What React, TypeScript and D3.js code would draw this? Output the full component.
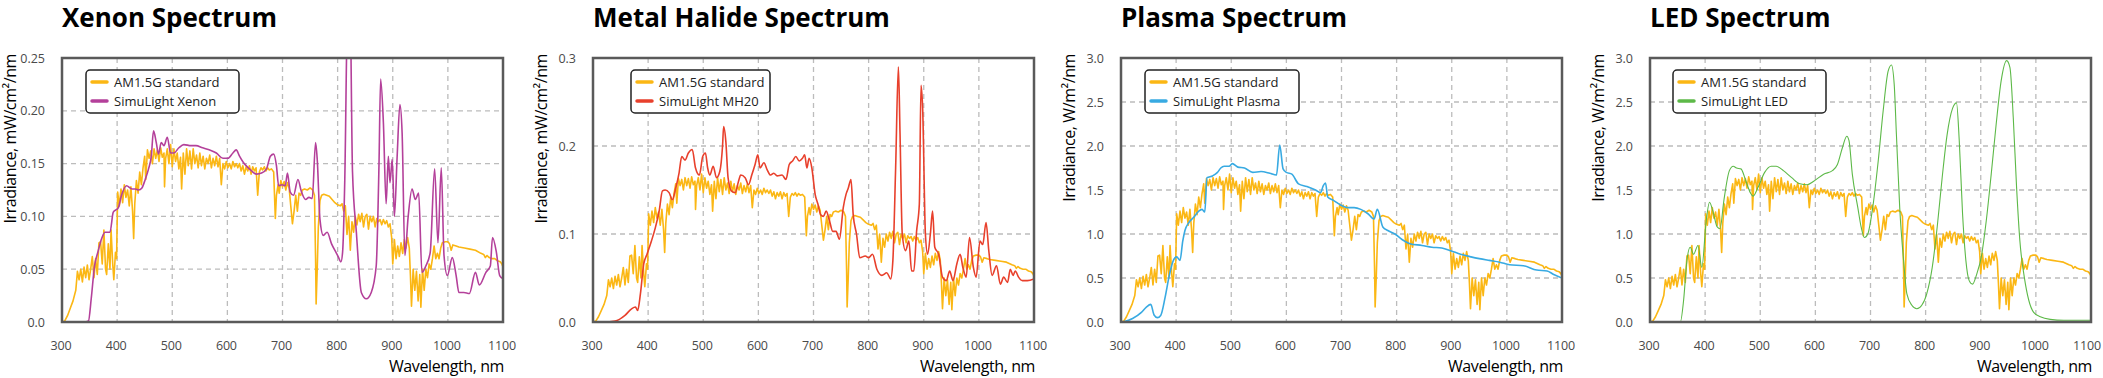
import React from "react";
import * as d3 from "d3";

// ---- DATA ----
// AM1.5G standard spectrum, W/m²/nm  [wavelength nm, irradiance]
const AM15G: [number, number][] = [
  [300,0],[305,0.01],[310,0.06],[315,0.13],[320,0.2],[325,0.3],[328,0.48],[331,0.4],[334,0.5],[337,0.38],[340,0.52],[343,0.42],[346,0.54],[349,0.4],[352,0.5],[355,0.62],[358,0.42],[361,0.6],[364,0.45],[367,0.75],[370,0.76],[373,0.55],[376,0.87],[379,0.5],[381,0.45],[384,0.74],[387,0.5],[389,0.87],[392,0.55],[394,0.4],[397,0.66],[399,0.6],
  [401,1.23],[404,1.1],[407,1.26],[410,1.13],[413,1.3],[416,1.18],[419,1.25],[422,1.1],[425,1.28],[428,1.05],[430,0.79],[432,1.12],[435,1.34],[438,1.22],[441,1.42],[444,1.3],[447,1.46],[450,1.57],[452,1.35],[455,1.63],[458,1.55],[461,1.62],[464,1.5],[467,1.64],[470,1.55],[473,1.63],[476,1.52],[479,1.65],[482,1.56],[485,1.6],[486,1.28],[488,1.55],[491,1.64],[494,1.5],[497,1.68],[500,1.47],
  [503,1.64],[506,1.52],[509,1.6],[512,1.45],[515,1.56],[517,1.26],[520,1.6],[523,1.4],[526,1.64],[529,1.48],[532,1.62],[535,1.45],[538,1.64],[541,1.5],[544,1.58],[547,1.46],[550,1.6],[553,1.48],[556,1.57],[559,1.45],[562,1.55],[565,1.5],[568,1.58],[571,1.46],[574,1.55],[577,1.48],[580,1.57],[583,1.47],[586,1.55],[589,1.3],[592,1.5],[595,1.45],[598,1.52],
  [601,1.46],[604,1.5],[607,1.45],[610,1.52],[613,1.47],[616,1.5],[619,1.46],[622,1.5],[625,1.43],[628,1.48],[631,1.4],[634,1.47],[637,1.43],[640,1.48],[643,1.4],[646,1.47],[649,1.43],[652,1.46],[655,1.2],[658,1.42],[661,1.46],[664,1.44],[667,1.47],[670,1.43],[673,1.46],[676,1.44],[680,1.45],[684,1.42],[687,0.98],[689,1.2],[692,1.3],[694,1.22],[697,1.34],[700,1.28],
  [703,1.33],[706,1.25],[709,1.32],[712,1.27],[715,1.1],[718,0.93],[721,1.05],[724,1.2],[727,1.05],[730,1.22],[733,1.2],[736,1.25],[740,1.26],[745,1.25],[750,1.27],[755,1.25],[758,1.2],[760,0.6],[761,0.17],[763,0.5],[765,0.9],[768,1.15],[771,1.2],[775,1.21],[780,1.2],[785,1.19],[790,1.16],[795,1.13],[800,1.11],
  [805,1.1],[808,1.12],[811,1.05],[814,1.1],[817,0.83],[820,1.0],[823,0.68],[826,0.95],[829,0.85],[832,1.0],[835,0.92],[838,1.02],[841,0.95],[844,1.03],[847,0.9],[850,1.0],[853,1.02],[856,0.88],[859,1.0],[862,0.95],[865,1.0],[868,0.9],[871,0.98],[874,0.95],[877,0.97],[880,0.92],[883,0.97],[886,0.93],[889,0.96],[892,0.9],[895,0.93],[898,0.8],[900,0.55],
  [903,0.78],[906,0.6],[909,0.72],[912,0.62],[915,0.75],[918,0.65],[921,0.78],[924,0.7],[927,0.8],[930,0.7],[932,0.45],[934,0.15],[937,0.5],[940,0.3],[943,0.48],[946,0.2],[949,0.45],[951,0.14],[954,0.5],[957,0.3],[960,0.5],[963,0.42],[966,0.55],[969,0.5],[972,0.6],[975,0.72],[978,0.6],[981,0.65],[984,0.6],[987,0.7],[990,0.75],[995,0.76],
  [1000,0.76],[1003,0.74],[1006,0.68],[1009,0.73],[1015,0.72],[1020,0.71],[1030,0.7],[1040,0.69],[1050,0.68],[1060,0.65],[1065,0.64],[1068,0.61],[1071,0.63],[1075,0.61],[1080,0.6],[1085,0.6],[1090,0.58],[1095,0.57],[1098,0.55],[1100,0.52],
];

// SimuLight Xenon, mW/cm²/nm
const XENON: [number, number][] = [
  [300,0],[320,0],[340,0],[348,0.001],[353,0.022],[359,0.053],[365,0.066],[372,0.079],[378,0.085],[387,0.085],[393,0.104],[402,0.108],[408,0.12],[417,0.129],[427,0.126],[433,0.126],[439,0.125],[445,0.127],[451,0.135],[457,0.145],[462,0.157],[466,0.181],[471,0.17],[475,0.159],[480,0.17],[485,0.167],[491,0.175],[497,0.16],[503,0.16],[512,0.165],[521,0.168],[534,0.167],[543,0.167],[555,0.165],[567,0.163],[580,0.16],[592,0.155],[601,0.155],[610,0.16],[616,0.163],[622,0.157],[629,0.151],[638,0.146],[644,0.143],[653,0.14],[662,0.141],[671,0.145],[678,0.157],[684,0.159],[689,0.148],[693,0.129],[699,0.13],[705,0.129],[709,0.141],[714,0.123],[720,0.12],[728,0.135],[734,0.124],[742,0.116],[748,0.118],[754,0.117],[760,0.17],[763,0.154],[768,0.097],[774,0.082],[781,0.085],[789,0.074],[797,0.066],[801,0.062],[806,0.057],[809,0.066],[813,0.135],[818,0.3],[822,0.32],[827,0.142],[834,0.085],[843,0.028],[852,0.022],[861,0.028],[870,0.053],[875,0.148],[878,0.23],[883,0.189],[888,0.112],[892,0.157],[895,0.132],[899,0.154],[903,0.1],[908,0.157],[913,0.206],[917,0.179],[922,0.063],[928,0.1],[935,0.126],[941,0.116],[947,0.122],[953,0.047],[960,0.053],[968,0.066],[976,0.145],[982,0.075],[988,0.146],[993,0.063],[999,0.044],[1008,0.061],[1015,0.044],[1020,0.028],[1029,0.028],[1039,0.027],[1050,0.047],[1057,0.035],[1069,0.047],[1077,0.053],[1081,0.08],[1088,0.066],[1094,0.044],[1100,0.041],
];

// SimuLight MH20, mW/cm²/nm
const MH20: [number, number][] = [
  [300,0],[320,0],[340,0.001],[358,0.0075],[370,0.015],[377,0.017],[381,0.013],[386,0.032],[392,0.066],[398,0.077],[406,0.092],[413,0.107],[420,0.126],[426,0.149],[431,0.15],[438,0.147],[444,0.139],[450,0.152],[456,0.169],[461,0.188],[467,0.184],[473,0.192],[480,0.196],[486,0.175],[493,0.167],[499,0.188],[504,0.192],[508,0.175],[512,0.167],[518,0.177],[524,0.164],[530,0.171],[535,0.2],[537,0.222],[541,0.205],[545,0.164],[551,0.149],[558,0.147],[564,0.16],[568,0.167],[576,0.164],[582,0.156],[588,0.167],[594,0.179],[599,0.19],[603,0.175],[610,0.181],[616,0.173],[622,0.167],[628,0.169],[634,0.166],[643,0.167],[650,0.162],[656,0.179],[662,0.183],[668,0.188],[674,0.183],[680,0.186],[684,0.19],[688,0.175],[692,0.186],[697,0.175],[703,0.145],[708,0.134],[713,0.122],[718,0.12],[723,0.126],[729,0.115],[735,0.103],[741,0.103],[747,0.094],[754,0.13],[759,0.145],[763,0.152],[768,0.162],[772,0.122],[778,0.1],[784,0.073],[794,0.075],[800,0.073],[807,0.077],[815,0.06],[824,0.053],[833,0.056],[840,0.049],[844,0.07],[849,0.175],[854,0.29],[857,0.213],[861,0.1],[867,0.081],[873,0.092],[878,0.058],[882,0.058],[887,0.103],[892,0.134],[895,0.269],[898,0.243],[903,0.1],[907,0.077],[912,0.1],[916,0.126],[920,0.085],[927,0.077],[934,0.051],[941,0.047],[947,0.058],[953,0.047],[960,0.066],[966,0.077],[971,0.062],[977,0.051],[983,0.096],[990,0.062],[995,0.051],[1002,0.092],[1007,0.088],[1013,0.113],[1018,0.081],[1024,0.053],[1032,0.064],[1039,0.043],[1045,0.051],[1052,0.045],[1057,0.06],[1062,0.053],[1066,0.058],[1072,0.051],[1079,0.047],[1088,0.047],[1100,0.049],
];

// SimuLight Plasma, W/m²/nm
const PLASMA: [number, number][] = [
  [303,0],[321,0.04],[337,0.11],[346,0.17],[354,0.2],[360,0.08],[366,0.05],[372,0.075],[380,0.28],[387,0.51],[395,0.7],[401,0.74],[407,0.7],[412,0.92],[416,1.04],[423,1.13],[432,1.19],[441,1.26],[447,1.28],[452,1.25],[456,1.64],[466,1.66],[475,1.7],[481,1.75],[487,1.77],[496,1.77],[502,1.8],[512,1.76],[524,1.75],[539,1.7],[554,1.71],[570,1.69],[582,1.67],[588,2.01],[594,1.74],[600,1.7],[610,1.68],[622,1.57],[637,1.54],[653,1.5],[662,1.47],[667,1.55],[671,1.58],[675,1.42],[686,1.38],[698,1.33],[711,1.3],[723,1.3],[735,1.28],[748,1.23],[759,1.17],[765,1.28],[775,1.08],[784,1.04],[797,1.0],[809,0.94],[824,0.89],[846,0.87],[864,0.85],[882,0.84],[898,0.81],[916,0.77],[935,0.74],[950,0.72],[968,0.7],[987,0.68],[1005,0.65],[1030,0.64],[1054,0.59],[1073,0.58],[1085,0.54],[1100,0.5],
];

// SimuLight LED, W/m²/nm
const LED: [number, number][] = [
  [300,0],[340,0],[355,0],[361,0.25],[367,0.7],[373,0.85],[379,0.77],[387,0.87],[394,0.62],[402,1.15],[408,1.36],[414,1.26],[422,1.08],[427,1.06],[434,1.38],[444,1.72],[451,1.77],[457,1.75],[465,1.74],[474,1.6],[482,1.47],[487,1.43],[496,1.53],[508,1.7],[520,1.77],[529,1.77],[542,1.72],[557,1.64],[572,1.57],[585,1.56],[597,1.6],[615,1.68],[631,1.72],[640,1.79],[649,1.98],[657,2.11],[661,2.06],[667,1.68],[677,1.3],[683,1.08],[689,0.96],[695,1.0],[704,1.3],[714,1.83],[723,2.4],[732,2.85],[738,2.92],[743,2.7],[747,2.13],[753,1.3],[760,0.7],[766,0.32],[775,0.19],[784,0.15],[793,0.19],[802,0.32],[812,0.62],[821,1.08],[830,1.64],[839,2.13],[849,2.43],[856,2.49],[861,2.06],[867,1.23],[873,0.7],[879,0.47],[885,0.43],[893,0.55],[901,0.74],[910,1.15],[919,1.68],[928,2.25],[937,2.74],[947,2.97],[953,2.89],[959,2.32],[965,1.53],[971,0.92],[979,0.51],[987,0.25],[996,0.11],[1008,0.06],[1026,0.03],[1051,0.02],[1100,0.02],
];

const TITLES = ["Xenon Spectrum", "Metal Halide Spectrum", "Plasma Spectrum", "LED Spectrum"];
const Y_TITLES = ["Irradiance, mW/cm²/nm", "Irradiance, mW/cm²/nm", "Irradiance, W/m²/nm", "Irradiance, W/m²/nm"];
const LAMP_NAMES = ["SimuLight Xenon", "SimuLight MH20", "SimuLight Plasma", "SimuLight LED"];
const LAMP_DATA = [XENON, MH20, PLASMA, LED];
const Y_MAX = [0.25, 0.3, 3.0, 3.0];
const Y_TICKS = [
  [0, 0.05, 0.1, 0.15, 0.2, 0.25],
  [0, 0.1, 0.2, 0.3],
  [0, 0.5, 1, 1.5, 2, 2.5, 3],
  [0, 0.5, 1, 1.5, 2, 2.5, 3],
];
const Y_TICK_LABELS = [
  ["0.0", "0.05", "0.10", "0.15", "0.20", "0.25"],
  ["0.0", "0.1", "0.2", "0.3"],
  ["0.0", "0.5", "1.0", "1.5", "2.0", "2.5", "3.0"],
  ["0.0", "0.5", "1.0", "1.5", "2.0", "2.5", "3.0"],
];
// unit factor applied to AM1.5G (W/m²/nm -> mW/cm²/nm)
const AM_UNIT = [0.1, 0.1, 1, 1];
const X_TICKS = [300, 400, 500, 600, 700, 800, 900, 1000, 1100];
const AM_NAME = "AM1.5G standard";

// ---- STYLE / LAYOUT ----
const AM_COLOR = "#FBB714";
const LAMP_COLORS = ["#B4409A", "#E8402C", "#38AAE2", "#5DB948"];
const LAMP_WIDTHS = [1.6, 1.6, 1.6, 1.1];
const PANEL_LEFT = [62, 593, 1121, 1650];
const PANEL_W = 441;
const TOP = 58;
const BOTTOM = 322;
const LEGEND_X = [24, 38, 24, 23];
const LEGEND_W = [153, 139, 154, 153];
const FONT = "'Open Sans', 'Noto Sans', sans-serif";
const SVG_W = 2103;

function Panel({ i }: { i: number }) {
  const left = PANEL_LEFT[i];
  const right = left + PANEL_W;
  const x = d3.scaleLinear().domain([300, 1100]).range([left, right]);
  const y = d3.scaleLinear().domain([0, Y_MAX[i]]).range([BOTTOM, TOP]);
  const lineAM = d3
    .line<[number, number]>()
    .x((d) => x(d[0]))
    .y((d) => y(d[1] * AM_UNIT[i]))
    .curve(d3.curveLinear);
  const lineLamp = d3
    .line<[number, number]>()
    .x((d) => x(d[0]))
    .y((d) => y(d[1]))
    .curve(d3.curveMonotoneX);
  const clipId = `clip${i}`;
  const bx = left + LEGEND_X[i];
  const by = TOP + 12;
  return (
    <g>
      <defs>
        <clipPath id={clipId}>
          <rect x={left} y={TOP} width={PANEL_W} height={BOTTOM - TOP} />
        </clipPath>
      </defs>
      <text x={left} y={27} fontFamily={FONT} fontWeight={700} fontSize={26} fill="#000">
        {TITLES[i]}
      </text>
      <rect x={left} y={TOP} width={PANEL_W} height={BOTTOM - TOP} fill="#fff" />
      {X_TICKS.slice(1, -1).map((t) => (
        <line key={"vx" + t} x1={x(t)} x2={x(t)} y1={TOP} y2={BOTTOM} stroke="#bcbcbc" strokeWidth={1.3} strokeDasharray="5,4" />
      ))}
      {Y_TICKS[i].slice(1, -1).map((t) => (
        <line key={"hy" + t} x1={left} x2={right} y1={y(t)} y2={y(t)} stroke="#bcbcbc" strokeWidth={1.3} strokeDasharray="5,4" />
      ))}
      <g clipPath={`url(#${clipId})`}>
        <path d={lineAM(AM15G) || ""} fill="none" stroke={AM_COLOR} strokeWidth={1.6} strokeLinejoin="round" />
        <path d={lineLamp(LAMP_DATA[i]) || ""} fill="none" stroke={LAMP_COLORS[i]} strokeWidth={LAMP_WIDTHS[i]} strokeLinejoin="round" />
      </g>
      <rect x={left} y={TOP} width={PANEL_W} height={BOTTOM - TOP} fill="none" stroke="#5a5a5a" strokeWidth={2.5} />
      {Y_TICKS[i].map((t, k) => (
        <text key={"yl" + t} x={left - 17} y={y(t)} textAnchor="end" dominantBaseline="central" fontFamily={FONT} fontSize={12.5} fill="#4a4a4a">
          {Y_TICK_LABELS[i][k]}
        </text>
      ))}
      {X_TICKS.map((t) => (
        <text
          key={"xl" + t}
          x={Math.min(x(t) - 1, SVG_W - 16)}
          y={345}
          textAnchor="middle"
          dominantBaseline="central"
          fontFamily={FONT}
          fontSize={12.5}
          letterSpacing={-0.2}
          fill="#4a4a4a"
        >
          {t}
        </text>
      ))}
      <text
        transform={`translate(${left - 52},${TOP - 4}) rotate(-90)`}
        textAnchor="end"
        dominantBaseline="central"
        fontFamily={FONT}
        fontSize={16}
        letterSpacing={-0.4}
        fill="#000"
      >
        {Y_TITLES[i]}
      </text>
      <text x={right + 1} y={372} textAnchor="end" fontFamily={FONT} fontSize={16} letterSpacing={-0.4} fill="#000">
        Wavelength, nm
      </text>
      <g>
        <rect x={bx} y={by} width={LEGEND_W[i]} height={43} rx={4} fill="#fff" stroke="#222" strokeWidth={1.5} />
        <line x1={bx + 6} x2={bx + 21} y1={by + 12} y2={by + 12} stroke={AM_COLOR} strokeWidth={3.5} strokeLinecap="round" />
        <line x1={bx + 6} x2={bx + 21} y1={by + 31} y2={by + 31} stroke={LAMP_COLORS[i]} strokeWidth={3.5} strokeLinecap="round" />
        <text x={bx + 28} y={by + 12} dominantBaseline="central" fontFamily={FONT} fontSize={13} fill="#222">
          {AM_NAME}
        </text>
        <text x={bx + 28} y={by + 31} dominantBaseline="central" fontFamily={FONT} fontSize={13} fill="#222">
          {LAMP_NAMES[i]}
        </text>
      </g>
    </g>
  );
}

export default function App() {
  return (
    <svg
      width={SVG_W}
      height={378}
      viewBox={`0 0 ${SVG_W} 378`}
      style={{ position: "absolute", left: 0, top: 0, background: "#fff" }}
    >
      {TITLES.map((_, i) => (
        <Panel key={i} i={i} />
      ))}
    </svg>
  );
}
